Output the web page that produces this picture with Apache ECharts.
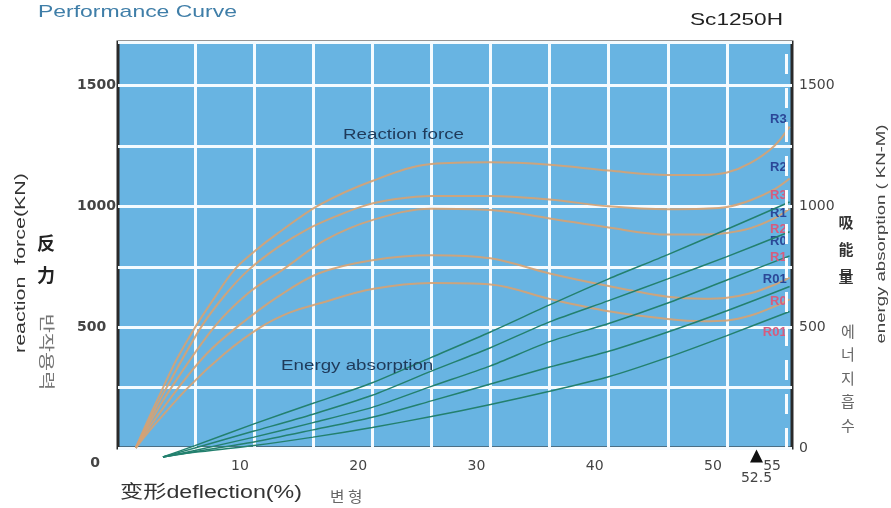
<!DOCTYPE html>
<html><head><meta charset="utf-8">
<script src="https://cdn.jsdelivr.net/npm/echarts@6/dist/echarts.min.js"></script>
<style>html,body{margin:0;padding:0;background:#fff}#c{width:891px;height:508px}</style>
</head><body><div id="c"></div>
<script>
// ---- data ----
const curveNames = ['R3', 'R2', 'R1', 'R0', 'R01'];
const deflectionGrid = [5, 10, 15, 20, 25, 30, 35, 40, 45, 50];
const deflectionLabels = [10, 20, 30, 40, 50, 55];
const ratedDeflection = 52.5;
const maxDeflection = 55;
const forceTicks = [500, 1000, 1500];
const energyTicks = [0, 500, 1000, 1500];

const reactionR3 = [[0,0],[1,112],[2.3,249],[3.5,370],[5,498],[6.5,610],[8.3,735],[10,812],[12,888],[15.5,1005],[20,1105],[25,1175],[30,1182],[35,1172],[40,1148],[45,1130],[48,1130],[50,1140],[52,1180],[54,1250],[55.3,1330]];
const reactionR2 = [[0,0],[1,100],[2.6,249],[5.5,498],[7.5,630],[9.5,735],[12,830],[14.5,905],[17,960],[19.5,1005],[22,1030],[25,1043],[30,1043],[35,1028],[40,1000],[45,988],[48,990],[50,997],[52,1025],[54,1070],[55.3,1115]];
const reactionR1 = [[0,0],[1,88],[3,249],[6.6,498],[9.5,640],[12.5,740],[16,860],[20,943],[25,990],[30,985],[35,950],[40,912],[45,883],[48,883],[50,890],[52,910],[54,950],[55.3,990]];
const reactionR0 = [[0,0],[1,75],[3.6,249],[6,390],[8.5,498],[12,625],[15.5,723],[20,777],[25,798],[30,785],[35,722],[40,670],[45,626],[48,618],[50,622],[52,640],[54,675],[55.3,705]];
const reactionR01 = [[0,0],[1,62],[4.4,249],[7.5,390],[10.5,498],[13,560],[15.5,598],[20,658],[25,683],[30,677],[35,617],[40,566],[45,534],[48,525],[50,528],[52,548],[54,585],[55.3,615]];

const energyR3 = [[2.3,-37],[5,10],[10,100],[15,185],[20,270],[25,375],[30,480],[35,592],[40,700],[45,800],[50,905],[55.3,1018]];
const energyR2 = [[2.3,-37],[5,0],[10,70],[15,140],[20,218],[25,318],[30,415],[35,522],[40,610],[45,700],[50,792],[55.3,895]];
const energyR1 = [[2.3,-37],[5,-10],[10,45],[15,105],[20,168],[25,255],[30,340],[35,440],[40,515],[45,600],[50,695],[55.3,795]];
const energyR0 = [[2.3,-37],[5,-15],[10,25],[15,75],[20,127],[25,195],[30,265],[35,335],[40,400],[45,480],[50,568],[55.3,668]];
const energyR01 = [[2.3,-37],[5,-18],[10,10],[15,45],[20,85],[25,130],[30,180],[35,235],[40,295],[45,375],[50,465],[55.3,565]];

const reactionData = [reactionR3, reactionR2, reactionR1, reactionR0, reactionR01];
const energyData = [energyR3, energyR2, energyR1, energyR0, energyR01];

// ---- style ----
const reactionLabelShift = [-7, -11, 5, -36, -20];
const energyLabelShift = [-7, -2, 2, 15, 21];
const LAT = '"Liberation Sans", Arial, sans-serif';
const DV = '"DejaVu Sans", sans-serif';

const chart = echarts.init(document.getElementById('c'), null, {renderer: 'canvas'});

function txt(text, x, y, opt) {
  opt = opt || {};
  return {
    type: 'text', x: x, y: y,
    rotation: opt.rotation || 0,
    scaleX: opt.scaleX || 1,
    z: 100,
    style: {
      text: text,
      font: opt.font,
      fill: opt.fill || '#333',
      align: opt.align || 'left', textAlign: opt.align || 'left',
      verticalAlign: 'middle', textVerticalAlign: 'middle',
      lineHeight: opt.lineHeight
    }
  };
}

const series = [];
// carrier of the dashed max-deflection line and the rated-deflection marker (drawn below the curves)
series.push({
  name: 'markers', type: 'line', data: [], z: 1, silent: true,
  markLine: {
    silent: true, symbol: 'none', animation: false,
    label: {show: false},
    lineStyle: {color: '#ffffff', type: [20, 14], width: 3, opacity: 0.95},
    data: [{xAxis: maxDeflection}]
  },
  markPoint: {
    silent: true, animation: false,
    symbol: 'triangle', symbolSize: [13, 13], symbolOffset: [0, 8],
    itemStyle: {color: '#111'},
    label: {show: true, position: 'bottom', distance: 9, formatter: String(ratedDeflection),
            color: '#444', fontSize: 14, fontFamily: DV},
    data: [{coord: [ratedDeflection, 0]}]
  }
});
reactionData.forEach((d, i) => {
  series.push({
    name: 'reaction ' + curveNames[i], type: 'line', data: d,
    xAxisIndex: 0, yAxisIndex: 0,
    smooth: 0.35, showSymbol: false, symbol: 'none',
    lineStyle: {color: '#d6a273', width: 2, opacity: 0.9},
    z: 3,
    endLabel: {
      show: true, formatter: curveNames[i], color: '#2b4797',
      fontSize: 13, fontFamily: LAT, fontWeight: 'bold',
      align: 'right', verticalAlign: 'middle', distance: 0,
      offset: [-3, reactionLabelShift[i]]
    }
  });
});
energyData.forEach((d, i) => {
  series.push({
    name: 'energy ' + curveNames[i], type: 'line', data: d,
    xAxisIndex: 0, yAxisIndex: 1, clip: false,
    smooth: 0.25, showSymbol: false, symbol: 'none',
    lineStyle: {color: '#23806e', width: 1.5},
    z: 4,
    endLabel: {
      show: true, formatter: curveNames[i], color: '#d65c7e',
      fontSize: 13, fontFamily: LAT, fontWeight: 'bold',
      align: 'right', verticalAlign: 'middle', distance: 0,
      offset: [-3, energyLabelShift[i]]
    }
  });
});

const option = {
  animation: false,
  backgroundColor: '#ffffff',
  grid: {
    left: 118, right: 99, top: 42, bottom: 60,
    show: true, backgroundColor: '#68b4e2',
    borderColor: '#2a2a2a', borderWidth: 3,
    outerBoundsMode: 'none', containLabel: false
  },
  xAxis: {
    type: 'value', min: -1.5, max: 55.5,
    axisLine: {show: false},
    axisTick: {show: false, customValues: deflectionGrid},
    splitLine: {show: true, lineStyle: {color: '#f4fbff', width: 3}},
    axisLabel: {
      customValues: deflectionLabels, margin: 11, padding: [0, 28, 0, 0],
      color: '#444', fontSize: 14, fontFamily: DV
    }
  },
  yAxis: [{
    type: 'value', min: 0, max: 1680, interval: 250, position: 'left',
    axisLine: {show: false}, axisTick: {show: false},
    splitLine: {show: true, lineStyle: {color: '#f4fbff', width: 3}},
    axisLabel: {
      align: 'left', margin: 41, color: '#444', fontSize: 14, fontFamily: DV, fontWeight: 'bold',
      formatter: v => forceTicks.indexOf(v) >= 0 ? String(v) : ''
    }
  }, {
    type: 'value', min: 0, max: 1680, interval: 250, position: 'right',
    axisLine: {show: false}, axisTick: {show: false}, splitLine: {show: false},
    axisLabel: {
      margin: 7, color: '#444', fontSize: 14, fontFamily: DV,
      formatter: v => energyTicks.indexOf(v) >= 0 ? String(v) : ''
    }
  }],
  series: series,
  graphic: [
    txt('Performance Curve', 38, 12, {font: '17px ' + LAT, fill: '#3f7ea8', scaleX: 1.35}),
    txt('Sc1250H', 690, 20, {font: '17px ' + LAT, fill: '#222', scaleX: 1.33}),
    txt('Reaction force', 343, 135, {font: '14px ' + LAT, fill: '#1f3a5a', scaleX: 1.34}),
    txt('Energy absorption', 281, 366, {font: '14px ' + LAT, fill: '#1f3a5a', scaleX: 1.34}),
    txt('0', 95, 463, {font: 'bold 14px ' + DV, fill: '#444', align: 'center'}),
    txt('变形deflection(%)', 120, 493, {font: '18px ' + LAT + ', "Noto Sans CJK SC"', fill: '#333', scaleX: 1.29}),
    txt('변 형', 330, 496, {font: '15px "Noto Sans CJK KR"', fill: '#666', scaleX: 1.05}),
    txt('reaction  force(KN)', 21, 263, {font: '15px ' + LAT, fill: '#333', align: 'center', rotation: Math.PI / 2, scaleX: 1.43}),
    txt('反', 46, 243, {font: 'bold 18px "Noto Sans CJK SC"', fill: '#222', align: 'center'}),
    txt('力', 46, 275, {font: 'bold 18px "Noto Sans CJK SC"', fill: '#222', align: 'center'}),
    txt('반작용력', 47, 352, {font: '16px "Noto Sans CJK KR"', fill: '#777', align: 'center', rotation: -Math.PI / 2, scaleX: 1.3}),
    txt('吸\n能\n量', 846, 249, {font: 'bold 15px "Noto Sans CJK SC"', fill: '#333', align: 'center', lineHeight: 27}),
    txt('에\n너\n지\n흡\n수', 848, 378, {font: '15px "Noto Sans CJK KR"', fill: '#666', align: 'center', lineHeight: 23.5}),
    txt('energy absorption ( KN-M)', 881, 234, {font: '13px ' + LAT, fill: '#444', align: 'center', rotation: Math.PI / 2, scaleX: 1.43})
  ]
};
chart.setOption(option);
</script>
</body></html>
